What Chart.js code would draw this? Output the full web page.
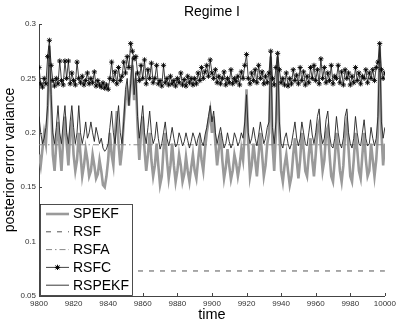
<!DOCTYPE html>
<html>
<head>
<meta charset="utf-8">
<script src="https://cdn.jsdelivr.net/npm/chart.js@4"></script>
<style>
    html, body { margin: 0; padding: 0; background: #fff; }
    #wrap { width: 399px; height: 324px; }
</style>
</head>
<body>
<div id="wrap"><canvas id="chart" width="399" height="324"></canvas></div>
<script>
// time axis starts at 9800, one sample per time unit
const startTime = 9800;
const xTicks = [9800, 9820, 9840, 9860, 9880, 9900, 9920, 9940, 9960, 9980, 10000];
const yTicks = [0.05, 0.1, 0.15, 0.2, 0.25, 0.3];
const seriesNames = ['SPEKF', 'RSF', 'RSFA', 'RSFC', 'RSPEKF'];

const spekf = [
    0.18, 0.17, 0.185, 0.2, 0.19, 0.22, 0.28, 0.23, 0.18, 0.165,
    0.19, 0.21, 0.185, 0.165, 0.195, 0.215, 0.19, 0.17, 0.2, 0.21,
    0.18, 0.165, 0.175, 0.2, 0.18, 0.16, 0.17, 0.185, 0.175, 0.16,
    0.165, 0.18, 0.17, 0.158, 0.162, 0.175, 0.165, 0.152, 0.15, 0.16,
    0.175, 0.2, 0.18, 0.17, 0.2, 0.22, 0.19, 0.17, 0.185, 0.21,
    0.23, 0.24, 0.225, 0.245, 0.262, 0.23, 0.25, 0.205, 0.175, 0.2,
    0.215, 0.185, 0.165, 0.18, 0.2, 0.175, 0.16, 0.17, 0.19, 0.17,
    0.152, 0.16, 0.185, 0.2, 0.175, 0.158, 0.17, 0.19, 0.17, 0.155,
    0.165, 0.18, 0.17, 0.155, 0.162, 0.178, 0.165, 0.155, 0.168, 0.18,
    0.165, 0.158, 0.175, 0.19, 0.175, 0.165, 0.185, 0.2, 0.21, 0.22,
    0.2, 0.215, 0.19, 0.17, 0.185, 0.2, 0.175, 0.158, 0.168, 0.185,
    0.17, 0.157, 0.165, 0.18, 0.172, 0.16, 0.17, 0.185, 0.175, 0.2,
    0.24, 0.19, 0.16, 0.17, 0.19, 0.175, 0.16, 0.18, 0.2, 0.18,
    0.16, 0.17, 0.19, 0.2, 0.27, 0.19, 0.165, 0.2, 0.27, 0.2,
    0.165, 0.155, 0.17, 0.18, 0.165, 0.152, 0.16, 0.18, 0.195, 0.175,
    0.158, 0.175, 0.2, 0.185, 0.165, 0.16, 0.18, 0.195, 0.175, 0.16,
    0.18, 0.205, 0.21, 0.185, 0.165, 0.175, 0.2, 0.205, 0.18, 0.16,
    0.155, 0.175, 0.2, 0.185, 0.165, 0.155, 0.17, 0.2, 0.21, 0.185,
    0.16, 0.155, 0.175, 0.2, 0.185, 0.165, 0.158, 0.18, 0.2, 0.175,
    0.16, 0.165, 0.19, 0.175, 0.16, 0.175, 0.2, 0.28, 0.2, 0.17,
    0.19
];

const rspekf = [
    0.215, 0.2, 0.19, 0.195, 0.205, 0.225, 0.28, 0.235, 0.2, 0.19,
    0.205, 0.225, 0.2, 0.19, 0.21, 0.225, 0.2, 0.19, 0.21, 0.225,
    0.205, 0.19, 0.2, 0.225, 0.2, 0.19, 0.198, 0.21, 0.195, 0.2,
    0.21, 0.2, 0.192, 0.205, 0.198, 0.19, 0.195, 0.186, 0.183, 0.185,
    0.19, 0.205, 0.22, 0.2, 0.19, 0.21, 0.225, 0.2, 0.19, 0.21,
    0.24, 0.25, 0.225, 0.245, 0.27, 0.235, 0.255, 0.215, 0.195, 0.21,
    0.225, 0.2, 0.19, 0.205, 0.22, 0.2, 0.19, 0.195, 0.21, 0.195,
    0.185, 0.19, 0.2, 0.21, 0.195, 0.188, 0.195, 0.205, 0.195, 0.187,
    0.19, 0.2, 0.195, 0.188, 0.192, 0.2, 0.193, 0.186, 0.192, 0.2,
    0.195, 0.188, 0.195, 0.2, 0.192, 0.188, 0.198, 0.205, 0.215, 0.225,
    0.21, 0.22, 0.2, 0.19, 0.198, 0.205, 0.195, 0.186, 0.19, 0.2,
    0.192, 0.186, 0.19, 0.2, 0.195, 0.188, 0.192, 0.2, 0.195, 0.21,
    0.235, 0.2, 0.19, 0.195, 0.205, 0.195, 0.188, 0.198, 0.21, 0.2,
    0.19, 0.195, 0.205, 0.21, 0.275, 0.205, 0.19, 0.21, 0.275, 0.21,
    0.19, 0.186, 0.195, 0.2, 0.19, 0.185, 0.19, 0.2, 0.21, 0.195,
    0.188, 0.195, 0.21, 0.2, 0.19, 0.188, 0.2, 0.212, 0.198, 0.19,
    0.2, 0.215, 0.222, 0.2, 0.19, 0.195, 0.212, 0.22, 0.198, 0.188,
    0.186, 0.195, 0.215, 0.2, 0.19, 0.186, 0.195, 0.215, 0.222, 0.2,
    0.19, 0.186, 0.195, 0.215, 0.2, 0.19, 0.188, 0.2, 0.212, 0.195,
    0.188, 0.19, 0.205, 0.195, 0.188, 0.195, 0.215, 0.28, 0.21, 0.195,
    0.205
];

const rsfc = [
    0.26, 0.245, 0.242, 0.25, 0.245, 0.27, 0.285, 0.262, 0.248, 0.243,
    0.25, 0.245, 0.266, 0.248, 0.244, 0.266, 0.25, 0.266, 0.245, 0.255,
    0.248, 0.244, 0.265, 0.25, 0.246, 0.252, 0.244, 0.248, 0.255, 0.245,
    0.25, 0.246, 0.256, 0.243, 0.248, 0.244, 0.242, 0.246, 0.241, 0.244,
    0.24, 0.25, 0.265, 0.248, 0.256, 0.245, 0.26, 0.248, 0.252, 0.265,
    0.255, 0.27, 0.26, 0.282, 0.275, 0.268, 0.27, 0.255, 0.248, 0.262,
    0.25, 0.267, 0.245, 0.258, 0.25, 0.264, 0.246, 0.25, 0.262, 0.245,
    0.248, 0.243, 0.262, 0.246, 0.25, 0.244, 0.252, 0.245, 0.248, 0.243,
    0.25, 0.246, 0.255, 0.244, 0.249, 0.243, 0.252, 0.246, 0.25, 0.244,
    0.25, 0.245, 0.255, 0.248, 0.26, 0.25, 0.256, 0.262, 0.252, 0.267,
    0.255, 0.25, 0.258, 0.246, 0.252, 0.245, 0.25, 0.256, 0.244, 0.25,
    0.246, 0.258, 0.245, 0.25, 0.247, 0.252, 0.244, 0.256, 0.25, 0.262,
    0.272, 0.25, 0.245, 0.255, 0.248, 0.258, 0.246, 0.262, 0.25, 0.256,
    0.245, 0.252, 0.246, 0.255, 0.275, 0.25, 0.244, 0.26, 0.273, 0.258,
    0.246, 0.25, 0.244, 0.255, 0.243, 0.25, 0.245, 0.258, 0.248, 0.253,
    0.245, 0.26, 0.248, 0.256, 0.244, 0.252, 0.246, 0.26, 0.25, 0.262,
    0.248, 0.258, 0.245, 0.268, 0.25, 0.26, 0.246, 0.255, 0.248, 0.262,
    0.245, 0.252, 0.25, 0.262, 0.246, 0.256, 0.244, 0.258, 0.25, 0.255,
    0.244, 0.252, 0.246, 0.26, 0.248, 0.255, 0.245, 0.252, 0.25, 0.258,
    0.246, 0.255, 0.25, 0.258, 0.248, 0.26, 0.265, 0.282, 0.258, 0.25,
    0.255
];

// the two flat filters
const rsfLevel = 0.073;
const rsfaLevel = 0.189;

function toPoints(values) {
    return values.map((v, i) => ({ x: startTime + i, y: v }));
}

function flatLine(level) {
    return [{ x: xTicks[0], y: level }, { x: xTicks[xTicks.length - 1], y: level }];
}

const fontFamily = '"Liberation Sans", Arial, Helvetica, sans-serif';

// title over the plot area, centred on it (not on the canvas)
const titlePlugin = {
    id: 'plotTitle',
    afterDraw(chart) {
        const ctx = chart.ctx;
        const area = chart.chartArea;
        ctx.save();
        ctx.fillStyle = '#000';
        ctx.font = '14px ' + fontFamily;
        ctx.textAlign = 'center';
        ctx.textBaseline = 'middle';
        ctx.fillText('Regime I', (area.left + area.right) / 2, 12);
        ctx.restore();
    }
};

// matlab style ticks pointing into the plot
const innerTicks = {
    id: 'innerTicks',
    afterDatasetsDraw(chart) {
        const ctx = chart.ctx;
        const xs = chart.scales.x;
        const ys = chart.scales.y;
        ctx.save();
        ctx.strokeStyle = '#444';
        ctx.lineWidth = 1;
        ctx.beginPath();
        xs.ticks.forEach(t => {
            const px = Math.round(xs.getPixelForValue(t.value)) + 0.5;
            ctx.moveTo(px, ys.bottom);
            ctx.lineTo(px, ys.bottom - 3);
        });
        ys.ticks.forEach(t => {
            const py = Math.round(ys.getPixelForValue(t.value)) + 0.5;
            ctx.moveTo(xs.left, py);
            ctx.lineTo(xs.left + 3, py);
        });
        ctx.stroke();
        ctx.restore();
    }
};

// boxed legend sitting in the lower left corner of the plot
const boxLegend = {
    id: 'boxLegend',
    afterDraw(chart) {
        const ctx = chart.ctx;
        const area = chart.chartArea;
        const left = area.left + 1;
        const right = left + 93;
        const bottom = area.bottom;
        const top = bottom - 92;
        const rowGap = 17.8;

        ctx.save();
        ctx.fillStyle = '#fff';
        ctx.fillRect(left, top, right - left, bottom - top);
        ctx.strokeStyle = '#222';
        ctx.lineWidth = 0.8;
        ctx.strokeRect(left + 0.5, top + 0.5, right - left - 1, bottom - top - 1);

        ctx.font = '14px ' + fontFamily;
        ctx.textBaseline = 'middle';
        ctx.textAlign = 'left';

        chart.data.datasets.forEach((ds, i) => {
            const y = top + 10 + i * rowGap;
            const x0 = left + 6;
            const x1 = left + 29;
            ctx.save();
            ctx.strokeStyle = ds.borderColor;
            ctx.lineWidth = ds.borderWidth;
            ctx.setLineDash(ds.borderDash || []);
            ctx.beginPath();
            ctx.moveTo(x0, y);
            ctx.lineTo(x1, y);
            ctx.stroke();
            ctx.restore();
            if (ds.pointRadius > 0) {
                Chart.helpers.drawPoint(ctx, {
                    pointStyle: ds.pointStyle,
                    radius: ds.pointRadius,
                    borderWidth: ds.pointBorderWidth,
                    rotation: 0
                }, (x0 + x1) / 2, y);
                ctx.strokeStyle = ds.pointBorderColor;
                ctx.lineWidth = ds.pointBorderWidth;
                ctx.stroke();
            }
            ctx.fillStyle = '#000';
            ctx.fillText(seriesNames[i], left + 33, y + 0.5);
        });
        ctx.restore();
    }
};

const ctx = document.getElementById('chart').getContext('2d');
const chart = new Chart(ctx, {
    type: 'line',
    data: {
        datasets: [
            {
                label: seriesNames[0],
                data: toPoints(spekf),
                borderColor: '#9a9a9a',
                borderWidth: 2.6,
                pointRadius: 0,
                order: 5
            },
            {
                label: seriesNames[1],
                data: flatLine(rsfLevel),
                borderColor: '#555',
                borderWidth: 1,
                borderDash: [5, 6],
                pointRadius: 0,
                order: 4
            },
            {
                label: seriesNames[2],
                data: flatLine(rsfaLevel),
                borderColor: '#888',
                borderWidth: 1,
                borderDash: [6, 3, 1.5, 3],
                pointRadius: 0,
                order: 3
            },
            {
                label: seriesNames[3],
                data: toPoints(rsfc),
                borderColor: '#111',
                borderWidth: 0.8,
                pointStyle: 'star',
                pointRadius: 2.6,
                pointBorderWidth: 0.9,
                pointBorderColor: '#000',
                pointBackgroundColor: '#000',
                order: 2
            },
            {
                label: seriesNames[4],
                data: toPoints(rspekf),
                borderColor: '#222',
                borderWidth: 0.9,
                pointRadius: 0,
                order: 1
            }
        ]
    },
    options: {
        responsive: false,
        animation: false,
        devicePixelRatio: 1,
        layout: { padding: { left: 0, top: 24, right: 14, bottom: 0 } },
        elements: { line: { tension: 0 } },
        plugins: {
            legend: { display: false },
            tooltip: { enabled: false },
            title: { display: false }
        },
        scales: {
            x: {
                type: 'linear',
                min: xTicks[0],
                max: xTicks[xTicks.length - 1],
                afterBuildTicks: scale => { scale.ticks = xTicks.map(v => ({ value: v })); },
                afterFit: scale => { scale.height = 28; },
                grid: { display: false, drawTicks: false },
                border: { display: true, color: '#444', width: 1 },
                ticks: {
                    color: '#333',
                    font: { family: fontFamily, size: 8 },
                    padding: 3,
                    maxRotation: 0,
                    autoSkip: false,
                    callback: v => String(v)
                },
                title: {
                    display: true,
                    text: 'time',
                    color: '#000',
                    font: { family: fontFamily, size: 14.5 },
                    padding: { top: 0, bottom: 0 }
                }
            },
            y: {
                type: 'linear',
                min: yTicks[0],
                max: yTicks[yTicks.length - 1],
                afterBuildTicks: scale => { scale.ticks = yTicks.map(v => ({ value: v })); },
                afterFit: scale => { scale.width = 39; },
                grid: { display: false, drawTicks: false },
                border: { display: true, color: '#444', width: 1 },
                ticks: {
                    color: '#333',
                    font: { family: fontFamily, size: 8 },
                    padding: 3,
                    callback: v => String(v)
                },
                title: {
                    display: true,
                    text: 'posterior error variance',
                    color: '#000',
                    font: { family: fontFamily, size: 14 },
                    padding: { top: 2, bottom: 0 }
                }
            }
        }
    },
    plugins: [titlePlugin, innerTicks, boxLegend]
});
</script>
</body>
</html>
